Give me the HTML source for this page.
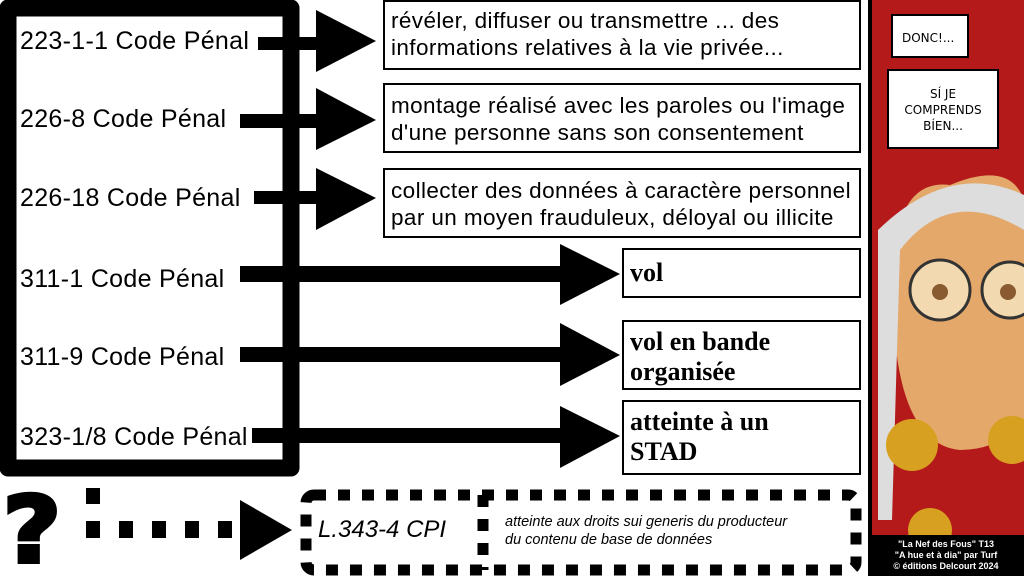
<!DOCTYPE html>
<html><head><meta charset="utf-8"><style>
body{margin:0;width:1024px;height:576px;background:#fff;position:relative;overflow:hidden;font-family:"Liberation Sans",sans-serif}
.a{position:absolute}
.lbl{position:absolute;left:20px;font-size:25px;color:#000;letter-spacing:0.3px}
.box{position:absolute;border:2px solid #000;background:#fff;box-sizing:border-box;font-size:22.5px;line-height:27px;padding:4px 6px;letter-spacing:0.4px;white-space:nowrap}
.bold{font-family:"Liberation Serif",serif;font-weight:bold;font-size:26px;line-height:30px;letter-spacing:0px}
</style></head><body>
<svg class="a" style="left:0;top:0" width="1024" height="576">
<path d="M8,8 H291 V468 H8 Z" fill="none" stroke="#000" stroke-width="17" stroke-linejoin="round"/>
<g fill="#000">
<rect x="258" y="37" width="60" height="13"/><polygon points="316,10 376,41 316,72"/>
<rect x="240" y="114" width="78" height="14"/><polygon points="316,88 376,120 316,150"/>
<rect x="254" y="191" width="64" height="13"/><polygon points="316,168 376,198 316,230"/>
<rect x="240" y="266" width="322" height="16"/><polygon points="560,244 620,274 560,305"/>
<rect x="240" y="347" width="322" height="15"/><polygon points="560,323 620,355 560,386"/>
<rect x="252" y="428" width="310" height="15"/><polygon points="560,406 620,436 560,468"/>
<rect x="86" y="488" width="14" height="16"/>
<rect x="86" y="521" width="14" height="17"/><rect x="119" y="521" width="14" height="17"/><rect x="152" y="521" width="14" height="17"/><rect x="185" y="521" width="14" height="17"/><rect x="218" y="521" width="14" height="17"/>
<polygon points="240,500 292,530 240,560"/>
</g>
<rect x="306" y="495" width="550" height="75" fill="none" stroke="#000" stroke-width="11" stroke-dasharray="12,12" rx="8"/>
<line x1="483" y1="495" x2="483" y2="570" stroke="#000" stroke-width="11" stroke-dasharray="12,12"/>
<text x="6" y="562" font-family="DejaVu Sans" font-weight="bold" font-size="92" stroke="#000" stroke-width="4" transform="translate(-4,0) scale(1.1,1)">?</text>
<rect x="868" y="0" width="156" height="535" fill="#b41a1a"/>
<rect x="868" y="0" width="4" height="535" fill="#000"/>
<path d="M950,185 Q1010,160 1024,200 L1024,420 Q1000,450 960,450 Q905,445 895,340 L898,230 Q910,180 950,185Z" fill="#e3a86a"/>
<path d="M878,230 Q950,160 1024,195 L1024,230 Q950,185 900,250 L892,520 L878,520Z" fill="#ddd"/>
<circle cx="940" cy="290" r="30" fill="#f2d9b0" stroke="#333" stroke-width="3"/>
<circle cx="1010" cy="290" r="28" fill="#f2d9b0" stroke="#333" stroke-width="3"/>
<circle cx="940" cy="292" r="8" fill="#8a5a30"/><circle cx="1008" cy="292" r="8" fill="#8a5a30"/>
<circle cx="912" cy="445" r="26" fill="#d8a020"/><circle cx="1012" cy="440" r="24" fill="#d8a020"/>
<circle cx="930" cy="530" r="22" fill="#d8a020"/>
<rect x="892" y="15" width="76" height="42" fill="#fff" stroke="#000" stroke-width="2"/>
<rect x="888" y="70" width="110" height="78" fill="#fff" stroke="#000" stroke-width="2"/>
<text x="902" y="42" font-size="12" font-family="DejaVu Sans">DONC!...</text>
<text x="943" y="98" font-size="12" text-anchor="middle" font-family="DejaVu Sans">SÍ JE</text>
<text x="943" y="114" font-size="12" text-anchor="middle" font-family="DejaVu Sans">COMPRENDS</text>
<text x="943" y="130" font-size="12" text-anchor="middle" font-family="DejaVu Sans">BÍEN...</text>
<rect x="868" y="535" width="156" height="41" fill="#000"/>
<text x="946" y="547" fill="#fff" font-size="9" font-weight="bold" text-anchor="middle">"La Nef des Fous" T13</text>
<text x="946" y="558" fill="#fff" font-size="9" font-weight="bold" text-anchor="middle">"A hue et à dia" par Turf</text>
<text x="946" y="569" fill="#fff" font-size="9" font-weight="bold" text-anchor="middle">© éditions Delcourt 2024</text>
</svg>
<div class="lbl" style="top:27px">223-1-1 Code Pénal</div>
<div class="lbl" style="top:105px">226-8 Code Pénal</div>
<div class="lbl" style="top:184px">226-18 Code Pénal</div>
<div class="lbl" style="top:265px">311-1 Code Pénal</div>
<div class="lbl" style="top:343px">311-9 Code Pénal</div>
<div class="lbl" style="top:423px">323-1/8 Code Pénal</div>
<div class="box" style="left:383px;top:0;width:478px;height:70px;padding-top:5px">révéler, diffuser ou transmettre ... des<br>informations relatives à la vie privée...</div>
<div class="box" style="left:383px;top:83px;width:478px;height:70px;padding-top:7px">montage réalisé avec les paroles ou l'image<br>d'une personne sans son consentement</div>
<div class="box" style="left:383px;top:168px;width:478px;height:70px;padding-top:7px">collecter des données à caractère personnel<br>par un moyen frauduleux, déloyal ou illicite</div>
<div class="box bold" style="left:622px;top:248px;width:239px;height:50px;padding-top:8px">vol</div>
<div class="box bold" style="left:622px;top:320px;width:239px;height:70px;padding-top:5px">vol en bande<br>organisée</div>
<div class="box bold" style="left:622px;top:400px;width:239px;height:75px;padding-top:5px">atteinte à un<br>STAD</div>
<div class="a" style="left:318px;top:516px;font-size:24px;font-style:italic">L.343-4 CPI</div>
<div class="a" style="left:505px;top:513px;font-size:14.5px;font-style:italic;line-height:18px">atteinte aux droits sui generis du producteur<br>du contenu de base de données</div>
</body></html>
